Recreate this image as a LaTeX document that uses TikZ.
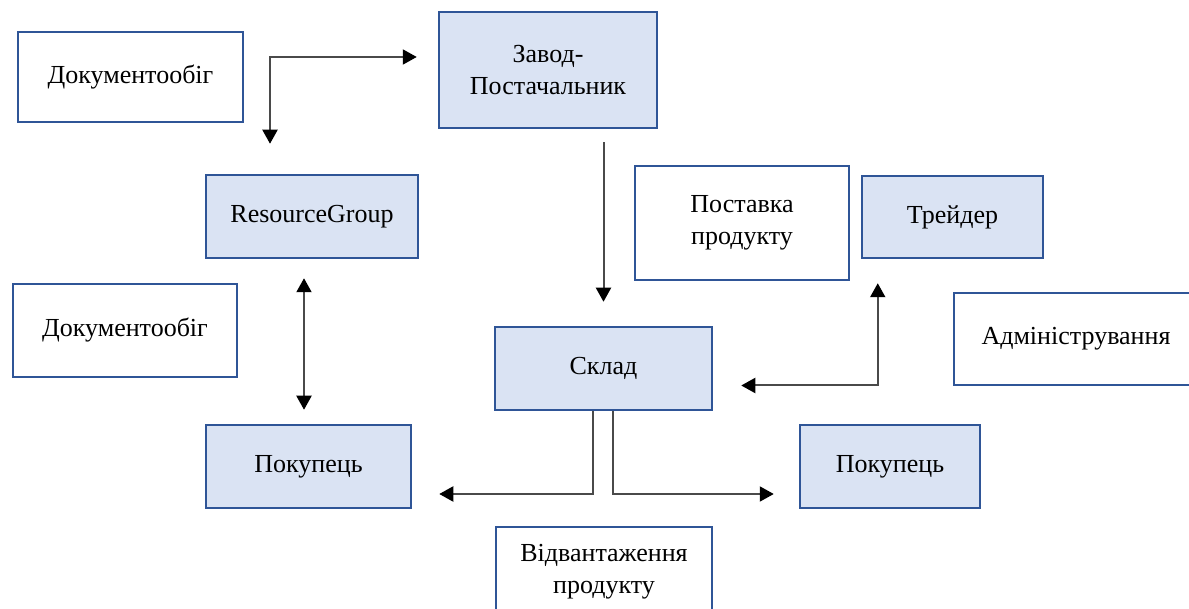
\documentclass[tikz,border=0pt]{standalone}
\usepackage{fontspec}
\setmainfont{Liberation Serif}
\usetikzlibrary{arrows.meta}
\definecolor{boxline}{HTML}{2F5597}
\definecolor{boxfill}{HTML}{DAE3F3}
\definecolor{arrline}{HTML}{4A4A4A}
\begin{document}
\begin{tikzpicture}[x=1pt,y=-1pt]
\tikzstyle{box}=[draw=boxline, line width=2.5pt, fill=white, align=center, inner sep=0pt, font=\fontsize{26}{32}\selectfont]
\tikzstyle{bluebox}=[box, fill=boxfill]
\tikzstyle{arr}=[draw=arrline, line width=2pt, -{Triangle[length=14pt,width=15pt,color=black]}]
\tikzstyle{dbl}=[arr, {Triangle[length=14pt,width=15pt,color=black]}-{Triangle[length=14pt,width=15pt,color=black]}]
\clip (0,0) rectangle (1189,609);
\fill[white] (0,0) rectangle (1189,609);
\node[box, minimum width=225pt, minimum height=90pt] (doc1) at (130.5,77) {Документообіг};
\node[bluebox, minimum width=218pt, minimum height=116pt] (zavod) at (548,70) {Завод-\\Постачальник};
\node[bluebox, minimum width=212pt, minimum height=83pt] (resgroup) at (312,216.5) {ResourceGroup};
\node[box, minimum width=214pt, minimum height=114pt] (postavka) at (742,223) {Поставка\\продукту};
\node[bluebox, minimum width=181pt, minimum height=82pt] (trader) at (952.5,217) {Трейдер};
\node[box, minimum width=224pt, minimum height=93pt] (doc2) at (125,330.5) {Документообіг};
\node[box, minimum width=244pt, minimum height=92pt] (admin) at (1076,339) {Адміністрування};
\node[bluebox, minimum width=217pt, minimum height=83pt] (sklad) at (603.5,368.5) {Склад};
\node[bluebox, minimum width=205pt, minimum height=83pt] (buyerleft) at (308.5,466.5) {Покупець};
\node[bluebox, minimum width=180pt, minimum height=83pt] (buyerright) at (890,466.5) {Покупець};
\node[box, minimum width=216pt, minimum height=90pt] (vidv) at (604,572) {Відвантаження\\продукту};
\coordinate (corner) at (270,57);
\coordinate (level) at (0,494);
\draw[dbl, shorten <=30pt, shorten >=21pt] (resgroup.north -| corner) -- (corner) -- (corner -| zavod.west);
\draw[arr, shorten <=13pt, shorten >=24pt] (zavod.south -| sklad.north) -- (sklad.north);
\draw[dbl, shorten <=19pt, shorten >=14pt] ([xshift=-8pt]resgroup.south) -- ([xshift=-8pt]resgroup.south |- buyerleft.north);
\draw[dbl, shorten <=28pt, shorten >=24pt] ([yshift=-17pt]sklad.east) -| ([xshift=17pt]trader.south west);
\draw[arr, shorten >=27pt] ([xshift=-11pt]sklad.south) |- (buyerleft.east |- level);
\draw[arr, shorten >=25pt] ([xshift=9pt]sklad.south) |- (buyerright.west |- level);
\end{tikzpicture}
\end{document}
